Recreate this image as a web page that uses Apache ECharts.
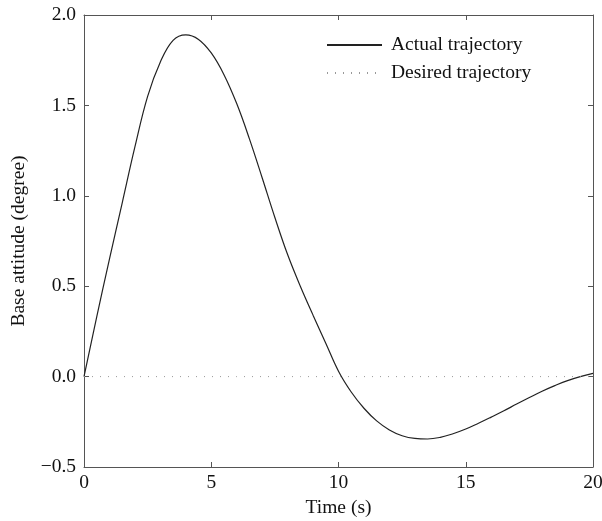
<!DOCTYPE html>
<html>
<head>
<meta charset="utf-8">
<script src="https://cdn.jsdelivr.net/npm/echarts@6/dist/echarts.min.js"></script>
<style>html,body{margin:0;padding:0;background:#fff;}#c{width:602px;height:521px;}</style>
</head>
<body>
<div id="c"></div>
<script>
var timeValues = [0,0.5,1,1.5,2,2.5,3,3.5,4,4.5,5,5.5,6,6.5,7,7.5,8,8.5,9,9.5,10,10.5,11,11.5,12,12.5,13,13.5,14,14.5,15,15.5,16,16.5,17,17.5,18,18.5,19,19.5,20];
var actualValues = [0,0.33,0.65,0.96,1.27,1.55,1.74,1.86,1.89,1.865,1.79,1.67,1.51,1.315,1.1,0.88,0.675,0.5,0.34,0.185,0.03,-0.085,-0.175,-0.245,-0.295,-0.327,-0.342,-0.345,-0.336,-0.316,-0.29,-0.258,-0.224,-0.189,-0.152,-0.116,-0.081,-0.05,-0.022,0.0,0.018];
var desiredValues = timeValues.map(function(){return 0;});
var xTicks = [0,5,10,15,20];
var yTicks = [-0.5,0,0.5,1.0,1.5,2.0];

function pairs(xs, ys){ return xs.map(function(x,i){return [x, ys[i]];}); }

var axisColor = '#555';
var font = 'Liberation Serif';
var fs = 19.5;
var chart = echarts.init(document.getElementById('c'), null, {renderer:'canvas'});
chart.setOption({
  animation:false,
  backgroundColor:'#fff',
  textStyle:{fontFamily:font},
  grid:{left:84, right:9, top:15, bottom:54, containLabel:false, outerBoundsMode:'none'},
  legend:{
    orient:'vertical', left:326, top:35, padding:0, itemWidth:55, itemHeight:14, itemGap:8,
    itemStyle:{opacity:0},
    textStyle:{fontFamily:font, fontSize:fs, color:'#111', padding:[0,0,0,4]},
    data:['Actual trajectory','Desired trajectory']
  },
  xAxis:[{
    type:'value', min:xTicks[0], max:xTicks[xTicks.length-1], interval:5, position:'bottom',
    name:'Time (s)', nameLocation:'middle', nameGap:30,
    nameTextStyle:{fontFamily:font, fontSize:fs, color:'#111'},
    axisLine:{show:true, onZero:false, lineStyle:{color:axisColor, width:1}},
    axisTick:{show:true, inside:true, length:5, lineStyle:{color:axisColor, width:1}},
    axisLabel:{fontFamily:font, fontSize:fs, color:'#111', margin:6},
    splitLine:{show:false}
  },{
    type:'value', min:xTicks[0], max:xTicks[xTicks.length-1], interval:5, position:'top',
    axisLine:{show:true, onZero:false, lineStyle:{color:axisColor, width:1}},
    axisTick:{show:true, inside:true, length:5, lineStyle:{color:axisColor, width:1}},
    axisLabel:{show:false}, splitLine:{show:false}
  }],
  yAxis:[{
    type:'value', min:yTicks[0], max:yTicks[yTicks.length-1], interval:0.5, position:'left',
    name:'Base attitude (degree)', nameLocation:'middle', nameGap:55,
    nameTextStyle:{fontFamily:font, fontSize:fs, color:'#111'},
    axisLine:{show:true, onZero:false, lineStyle:{color:axisColor, width:1}},
    axisTick:{show:true, inside:true, length:5, lineStyle:{color:axisColor, width:1}},
    axisLabel:{fontFamily:font, fontSize:fs, color:'#111', margin:8,
      formatter:function(v){ var s=v.toFixed(1); return v<0 ? '\u2212'+s.slice(1) : s; }},
    splitLine:{show:false}
  },{
    type:'value', min:yTicks[0], max:yTicks[yTicks.length-1], interval:0.5, position:'right',
    axisLine:{show:true, onZero:false, lineStyle:{color:axisColor, width:1}},
    axisTick:{show:true, inside:true, length:5, lineStyle:{color:axisColor, width:1}},
    axisLabel:{show:false}, splitLine:{show:false}
  }],
  series:[{
    name:'Actual trajectory', type:'line', symbol:'none', smooth:0.4,
    data:pairs(timeValues, actualValues),
    lineStyle:{color:'#222', width:1.2}, itemStyle:{color:'#222'}
  },{
    name:'Desired trajectory', type:'line', symbol:'none',
    data:pairs(timeValues, desiredValues),
    lineStyle:{color:'#999', width:1, type:[1,7]}, itemStyle:{color:'#999'}
  }]
});
</script>
</body>
</html>
